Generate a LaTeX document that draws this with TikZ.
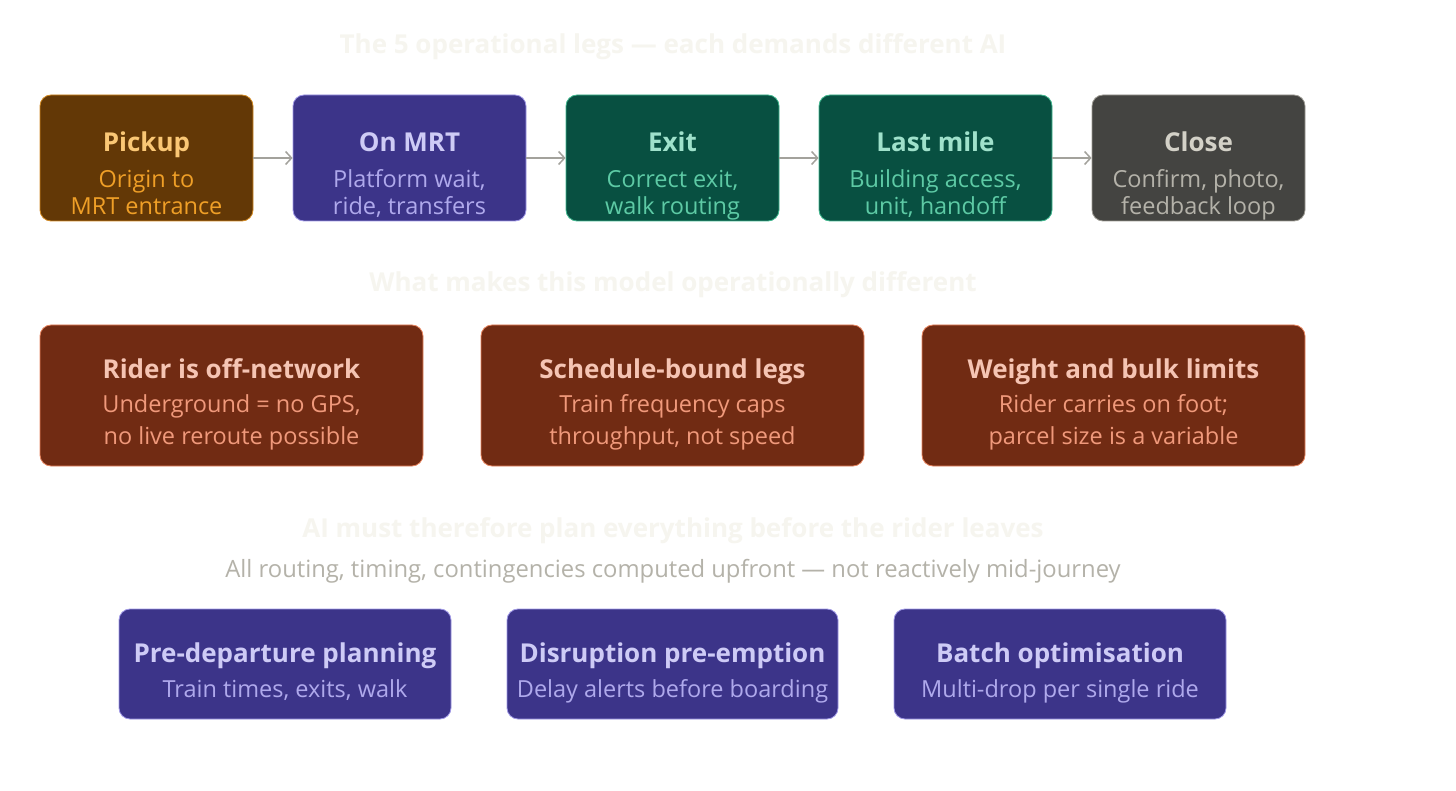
\documentclass[tikz,border=0pt]{standalone}
\usepackage{fontspec}
\setmainfont{Open Sans}
\usetikzlibrary{arrows.meta}
\definecolor{faint}{HTML}{F6F5EF}
\definecolor{subgray}{HTML}{B4B2A9}
\definecolor{arrowgray}{HTML}{A3A29C}
\definecolor{amberF}{HTML}{633806}\definecolor{amberD}{HTML}{D38A22}\definecolor{amberT}{HTML}{FAC775}\definecolor{amberS}{HTML}{EF9F27}
\definecolor{purpF}{HTML}{3C3489}\definecolor{purpD}{HTML}{9F98E6}\definecolor{purpT}{HTML}{CECBF6}\definecolor{purpS}{HTML}{AFA9EC}
\definecolor{tealF}{HTML}{085041}\definecolor{tealD}{HTML}{3FB88E}\definecolor{tealT}{HTML}{9FE1CB}\definecolor{tealS}{HTML}{5DCAA5}
\definecolor{grayF}{HTML}{444441}\definecolor{grayD}{HTML}{9C9A92}\definecolor{grayT}{HTML}{D3D1C7}\definecolor{grayS}{HTML}{B4B2A9}
\definecolor{coralF}{HTML}{712B13}\definecolor{coralD}{HTML}{E8855F}\definecolor{coralT}{HTML}{F5C4B3}\definecolor{coralS}{HTML}{F0997B}
\tikzset{
  boxbase/.style={rectangle, rounded corners=11pt, line width=0.8pt, inner sep=0pt},
  amberbox/.style={boxbase, fill=amberF, draw=amberD},
  purpbox/.style={boxbase, fill=purpF, draw=purpD},
  tealbox/.style={boxbase, fill=tealF, draw=tealD},
  graybox/.style={boxbase, fill=grayF, draw=grayD},
  coralbox/.style={boxbase, fill=coralF, draw=coralD},
  ttl/.style={font=\fontsize{26}{30}\selectfont\bfseries, inner sep=0pt, anchor=base},
  subt/.style={font=\fontsize{23.5}{27}\selectfont, inner sep=0pt, anchor=base},
  heading/.style={font=\fontsize{26}{30}\selectfont\bfseries, text=faint, inner sep=0pt, anchor=base},
  flow/.style={draw=arrowgray, line width=1.5pt, -{Straight Barb[length=6pt, width=13pt, line width=1.5pt]}},
}
\begin{document}
\begin{tikzpicture}[x=1pt, y=-1pt]
\useasboundingbox (0,0) rectangle (1456,791);
\fill[white] (0,0) rectangle (1456,791);

% headings
\node[heading] (h1) at (673,54) {The 5 operational legs — each demands different AI};
\node[heading] (h2) at (673,292) {What makes this model operationally different};
\node[heading] (h3) at (673,537) {AI must therefore plan everything before the rider leaves};
\node[font=\fontsize{23.8}{28}\selectfont, text=subgray, inner sep=0pt, anchor=base] (h3s) at (673,577) {All routing, timing, contingencies computed upfront — not reactively mid-journey};

% row 1
\node[amberbox, minimum width=213pt, minimum height=126pt] (pickup) at (146.5,158) {};
\node[ttl, text=amberT] (pickupT) at (146.5,152) {Pickup};
\node[subt, text=amberS] (pickupS1) at (146.5,187.5) {Origin to};
\node[subt, text=amberS] (pickupS2) at (146.5,214.5) {MRT entrance};

\node[purpbox, minimum width=233pt, minimum height=126pt] (mrt) at (409.5,158) {};
\node[ttl, text=purpT] (mrtT) at (409.5,152) {On MRT};
\node[subt, text=purpS] (mrtS1) at (409.5,187.5) {Platform wait,};
\node[subt, text=purpS] (mrtS2) at (409.5,214.5) {ride, transfers};

\node[tealbox, minimum width=213pt, minimum height=126pt] (exit) at (672.5,158) {};
\node[ttl, text=tealT] (exitT) at (672.5,152) {Exit};
\node[subt, text=tealS] (exitS1) at (672.5,187.5) {Correct exit,};
\node[subt, text=tealS] (exitS2) at (672.5,214.5) {walk routing};

\node[tealbox, minimum width=233pt, minimum height=126pt] (last) at (935.5,158) {};
\node[ttl, text=tealT] (lastT) at (935.5,152) {Last mile};
\node[subt, text=tealS] (lastS1) at (935.5,187.5) {Building access,};
\node[subt, text=tealS] (lastS2) at (935.5,214.5) {unit, handoff};

\node[graybox, minimum width=213pt, minimum height=126pt] (close) at (1198.5,158) {};
\node[ttl, text=grayT] (closeT) at (1198.5,152) {Close};
\node[subt, text=grayS] (closeS1) at (1198.5,187.5) {Confirm, photo,};
\node[subt, text=grayS] (closeS2) at (1198.5,214.5) {feedback loop};

\draw[flow] (pickup.east) -- (mrt.west);
\draw[flow] (mrt.east) -- (exit.west);
\draw[flow] (exit.east) -- (last.west);
\draw[flow] (last.east) -- (close.west);

% row 2
\node[coralbox, minimum width=383pt, minimum height=141pt] (r1) at (231.5,395.5) {};
\node[ttl, text=coralT] (r1T) at (231.5,378) {Rider is off-network};
\node[subt, text=coralS] (r1S1) at (231.5,412.5) {Underground = no GPS,};
\node[subt, text=coralS] (r1S2) at (231.5,444.5) {no live reroute possible};

\node[coralbox, minimum width=383pt, minimum height=141pt] (r2) at (672.5,395.5) {};
\node[ttl, text=coralT] (r2T) at (672.5,378) {Schedule-bound legs};
\node[subt, text=coralS] (r2S1) at (672.5,412.5) {Train frequency caps};
\node[subt, text=coralS] (r2S2) at (672.5,444.5) {throughput, not speed};

\node[coralbox, minimum width=383pt, minimum height=141pt] (r3) at (1113.5,395.5) {};
\node[ttl, text=coralT] (r3T) at (1113.5,378) {Weight and bulk limits};
\node[subt, text=coralS] (r3S1) at (1113.5,412.5) {Rider carries on foot;};
\node[subt, text=coralS] (r3S2) at (1113.5,444.5) {parcel size is a variable};

% row 3
\node[purpbox, minimum width=332pt, minimum height=110pt] (p1) at (285,664) {};
\node[ttl, text=purpT] (p1T) at (285,662) {Pre-departure planning};
\node[subt, text=purpS] (p1S) at (285,697) {Train times, exits, walk};

\node[purpbox, minimum width=331pt, minimum height=110pt] (p2) at (672.5,664) {};
\node[ttl, text=purpT] (p2T) at (672.5,662) {Disruption pre-emption};
\node[subt, text=purpS] (p2S) at (672.5,697) {Delay alerts before boarding};

\node[purpbox, minimum width=332pt, minimum height=110pt] (p3) at (1060,664) {};
\node[ttl, text=purpT] (p3T) at (1060,662) {Batch optimisation};
\node[subt, text=purpS] (p3S) at (1060,697) {Multi-drop per single ride};
\end{tikzpicture}
\end{document}
